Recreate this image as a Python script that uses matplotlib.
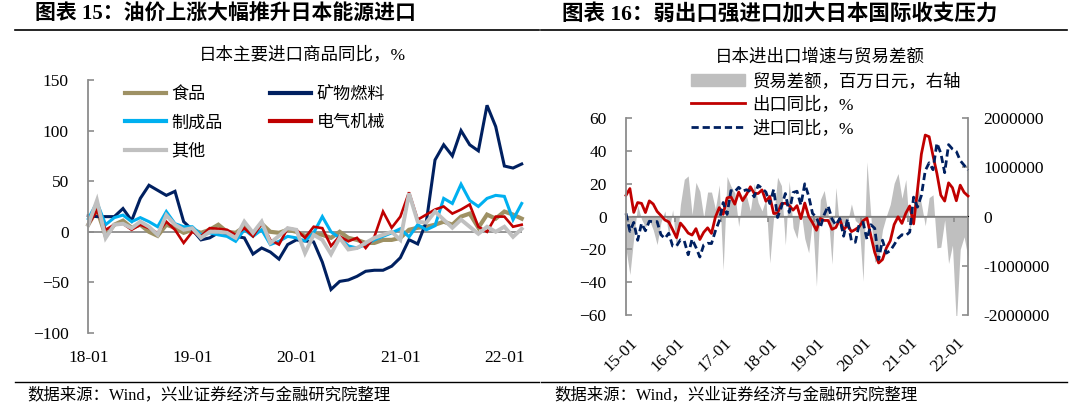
import matplotlib
matplotlib.use('Agg')
import matplotlib.pyplot as plt
from matplotlib.patches import Patch
from matplotlib.lines import Line2D
from matplotlib.font_manager import FontProperties

# ---------------- data: left chart (2018-01 .. 2022-03) ----------------
left_ticks = ['18-01', '19-01', '20-01', '21-01', '22-01']
food = [7, 22, -4, 7, 11, 4, 7, 0, -4, 7, 4, -1, 2, -1, 2, 7, 0, -1, 5, -3, 8, 0, -1, 2, 0,
        -4, -2, -3, -6, 0, -6, -8, -11, -11, -8, -8, -6, 2, 4, 5, 7, 10, 7, 15, 18, 4, 17, 13, 20, 17, 13]
fuel = [16, 15, 15, 15, 23, 11, 33, 46, 41, 36, 40, 10, 2, -8, -6, -1, -3, -4.5, -6, -22, -16, -20, -27, -12.6, -8,
        -9, -10, -30, -57, -49, -47.6, -44, -39, -38, -38, -34, -25.6, -7.8, -12, 10, 71, 86, 75, 100, 86, 80, 125, 104, 65, 63, 67]
manuf = [13, 29, 7, 14, 16.5, 10, 14, 10, 5, 20, 8, 5, 5, -3, -1, -3, -4.5, -9.4, 2, -4.5, 2, -12.6, -9.4, -4.5, -6,
         -9, -1, 15, 0, -6, -14, -16, -12.6, -8, -4.5, -1, 3, -5, 7, 2, 6, 33, 28, 47, 31, 25, 33, 36, 35, 12, 28]
elec = [7, 21, 2, 7, 8, 2, 7, 3.6, -1.3, 10, 2, -11, 0, -4.5, 3.6, 3, 2, -3, 3.6, -4.5, 8.4, -8, -12.6, 3.6, 2,
        -6, 5, 3.6, -14, -4.5, -9.4, -6, -16, -5, 20, 4, 15, 39, 12, 17, 22, 25, 18, 22, 27, 5, 0, 15, 15, 5, 7]
other = [7, 31, -6, 7, 8, 3.6, 10, 5, -3, 16.5, 7, 2, 3.6, -6, 0, 0, -1, -6, 10, -1, 10, -11, -4, 3.6, 2,
         -21, -3, -8, -22, -6, -17.5, -16, -11, -6, -3, 0, -8, 38, 10, 9, 20, 12, 4, 12, 5, -2, 5, 0, 5, -5, 3]
left_names = ['食品', '矿物燃料', '制成品', '电气机械', '其他']

# ---------------- data: right chart (2014-12 .. 2022-04) ----------------
right_ticks = ['15-01', '16-01', '17-01', '18-01', '19-01', '20-01', '21-01', '22-01']
exports = [12.9,
           17.0, 2.5, 8.5, 8.0, 2.4, 9.5, 7.6, 3.1, 0.6, -2.1, -3.3, -8.0,
           -12.9, -4.0, -6.8, -10.1, -11.3, -7.4, -14.0, -9.6, -6.9, -10.3, -0.4, 5.4,
           1.3, 11.3, 12.0, 7.5, 14.9, 9.7, 13.4, 18.1, 14.1, 14.0, 16.2, 9.3,
           12.2, 1.8, 2.1, 7.8, 8.1, 6.7, 3.9, 6.6, -1.3, 8.2, 0.1, -3.8,
           -8.4, -1.2, -2.4, -2.4, -7.8, -6.7, -1.6, -8.2, -5.2, -9.2, -7.9, -6.3,
           -2.6, -1.0, -11.7, -21.9, -28.3, -26.2, -19.2, -14.8, -4.9, -0.2, -4.2, 2.0,
           6.4, -4.5, 16.1, 38.0, 49.6, 48.6, 37.0, 26.2, 13.0, 9.4, 20.5, 17.5,
           9.6, 19.1, 14.7, 12.5]
imports = [1.9,
           -9.0, -3.6, -14.5, -4.2, -8.7, -2.9, -3.2, -3.1, -11.1, -13.4, -10.2, -18.0,
           -18.0, -14.2, -14.9, -23.3, -13.8, -18.8, -24.7, -17.3, -16.3, -16.5, -8.8, -2.6,
           8.5, 1.3, 15.8, 15.1, 17.8, 15.5, 16.3, 15.2, 12.0, 19.0, 17.2, 14.9,
           7.9, 16.5, -0.6, 5.9, 14.0, 2.5, 14.6, 15.4, 7.0, 19.9, 12.5, 1.9,
           -0.6, -6.7, 1.1, 6.4, -1.5, -5.2, -1.2, -12.0, -1.5, -14.8, -15.7, -4.9,
           -3.6, -13.9, -5.0, -7.2, -26.2, -14.4, -22.3, -20.8, -17.2, -13.3, -11.1, -11.6,
           -9.5, 11.8, 5.7, 12.8, 27.9, 32.7, 28.5, 44.7, 38.6, 26.7, 43.8, 41.1,
           39.6, 34.1, 31.2, 28.3]
balance = [-661000,
           -1179000, -425000, 229000, -54000, -217000, -70000, -269000, -570000, -115000, 111000, -380000, 140000,
           -649000, 242000, 755000, 824000, 40000, 693000, 513000, -19000, 497000, 496000, 153000, 641000,
           -1087000, 813000, 614000, 481000, -203000, 440000, 419000, 113000, 667000, 285000, 113000, 359000,
           -944000, 3000, 797000, 626000, -578000, 721000, -231000, -444000, 139000, -449000, -737000, -55000,
           -1415000, 339000, 528000, 60000, -967000, 589000, -249000, -136000, -123000, 256000, -82000, -152000,
           -1313000, 1109000, 2000, -930000, -833000, -269000, 11000, 248000, 675000, 873000, 367000, 751000,
           -323000, 217000, 663000, 255000, -187000, 383000, 441000, -637000, -623000, -67000, -954000, -582000,
           -2191000, -668000, -412000, -839000]
right_names = ['贸易差额，百万日元，右轴', '出口同比，%', '进口同比，%']

# ---------------- styling ----------------
W, H = 1080, 408
CJK = ['Liberation Serif', 'Noto Sans CJK SC']
fp = lambda s, w='normal': FontProperties(family=CJK, size=s, weight=w)
GRAY_AX = '#8C8C8C'

fig = plt.figure(figsize=(W / 100, H / 100), dpi=100)


def box(l, t, r, b):
    return [l / W, 1 - b / H, (r - l) / W, (b - t) / H]


# titles, rules and sources
fig.text(35 / W, 1 - 15 / H, '图表 15：油价上涨大幅推升日本能源进口', fontproperties=fp(15, 'bold'),
         ha='left', va='center')
fig.text(562 / W, 1 - 15 / H, '图表 16：弱出口强进口加大日本国际收支压力', fontproperties=fp(15.5, 'bold'),
         ha='left', va='center')
for x0, x1 in [(15, 539), (541, 1067)]:
    fig.add_artist(Line2D([x0 / W, x1 / W], [1 - 29.5 / H] * 2, color='black', lw=1.2))
    fig.add_artist(Line2D([x0 / W, x1 / W], [1 - 382 / H] * 2, color='black', lw=1.0))
fig.text(27 / W, 1 - 395 / H, '数据来源：Wind，兴业证券经济与金融研究院整理', fontproperties=fp(11.8),
         ha='left', va='center')
fig.text(554 / W, 1 - 395 / H, '数据来源：Wind，兴业证券经济与金融研究院整理', fontproperties=fp(11.8),
         ha='left', va='center')

# ---------------- left chart ----------------
ax = fig.add_axes(box(88.3, 80, 521.7, 333))
xs = list(range(len(fuel)))
colors = ['#9E9164', '#002060', '#00B0F0', '#C00000', '#C0C0C0']
widths = [3.0, 2.2, 2.2, 1.9, 2.8]
series = [food, fuel, manuf, elec, other]
lines = []
for s, c, w, n in zip(series, colors, widths, left_names):
    ln, = ax.plot(xs, s, color=c, lw=w, label=n, clip_on=False, solid_joinstyle='miter')
    lines.append(ln)
ax.axhline(0, color=GRAY_AX, lw=1.3, zorder=0)
ax.set_xlim(0, 50)
ax.set_ylim(-100, 150)
ax.set_yticks([-100, -50, 0, 50, 100, 150])
ax.set_xticks([0, 12, 24, 36, 48])
ax.set_xticklabels(left_ticks)
for sp in ['top', 'right', 'bottom']:
    ax.spines[sp].set_visible(False)
ax.spines['left'].set_color(GRAY_AX)
ax.spines['left'].set_linewidth(1.3)
ax.tick_params(axis='y', direction='in', length=4, color=GRAY_AX, width=1.2, pad=14)
ax.tick_params(axis='x', length=0, pad=12)
for lab in ax.get_xticklabels() + ax.get_yticklabels():
    lab.set_fontproperties(fp(12.5))
ax.patch.set_visible(False)
fig.text(302 / W, 1 - 55 / H, '日本主要进口商品同比，%', fontproperties=fp(12.6), ha='center', va='center')
order = [0, 2, 4, 1, 3]
leg = ax.legend([lines[i] for i in order], [left_names[i] for i in order], ncol=2, loc='upper left',
                bbox_to_anchor=(125 / W, 1 - 87 / H), bbox_transform=fig.transFigure, frameon=False,
                borderpad=0, borderaxespad=0, handlelength=2.4, handletextpad=0.3, columnspacing=2.8,
                labelspacing=0.72, prop=fp(12.3))
for h in leg.legend_handles:
    h.set_linewidth(3.0)

# ---------------- right chart ----------------
axr = fig.add_axes(box(626, 118, 968, 315))
ax2 = axr.twinx()
rx = list(range(len(exports)))
ax2.fill_between(rx, 0, balance, color='#BFBFBF', lw=0)
ax2.set_ylim(-2000000, 2000000)
ax2.set_yticks([-2000000, -1000000, 0, 1000000, 2000000])
ax2.set_yticklabels(['-2000000', '-1000000', '0', '1000000', '2000000'])
l_exp, = axr.plot(rx, exports, color='#C00000', lw=2.0, clip_on=False)
l_imp, = axr.plot(rx, imports, color='#002060', lw=2.0, ls=(0, (2.6, 1.4)), clip_on=False)
axr.axhline(0, color=GRAY_AX, lw=1.3, zorder=1)
axr.set_zorder(ax2.get_zorder() + 1)
axr.patch.set_visible(False)
axr.set_xlim(0, 88)
axr.set_ylim(-60, 60)
axr.set_yticks([-60, -40, -20, 0, 20, 40, 60])
axr.set_xticks([1 + 12 * k for k in range(8)])
axr.set_xticklabels(right_ticks, rotation=45, ha='right', va='top', rotation_mode='anchor')
axr.tick_params(axis='x', length=0, pad=14)
for a in (axr, ax2):
    for sp in ['top', 'bottom']:
        a.spines[sp].set_visible(False)
axr.spines['right'].set_visible(False)
ax2.spines['left'].set_visible(False)
axr.spines['left'].set_color(GRAY_AX)
axr.spines['left'].set_linewidth(1.3)
ax2.spines['right'].set_color(GRAY_AX)
ax2.spines['right'].set_linewidth(1.3)
axr.tick_params(axis='y', direction='in', length=4, color=GRAY_AX, width=1.2, pad=14)
ax2.tick_params(axis='y', direction='in', length=4, color=GRAY_AX, width=1.2, pad=11)
sec = axr.secondary_xaxis(0.5)
sec.set_xticks([0.5 + 12 * k for k in range(8)])
sec.set_xticklabels([])
sec.tick_params(length=4, direction='in', color=GRAY_AX, width=1.2)
sec.spines['bottom'].set_visible(False)
for lab in axr.get_xticklabels() + axr.get_yticklabels() + ax2.get_yticklabels():
    lab.set_fontproperties(fp(12.5))
fig.text(820 / W, 1 - 57 / H, '日本进出口增速与贸易差额', fontproperties=fp(12.6), ha='center', va='center')
rleg = axr.legend([Patch(color='#BFBFBF'), l_exp, l_imp], right_names, loc='upper left',
                  bbox_to_anchor=(691 / W, 1 - 73 / H), bbox_transform=fig.transFigure, frameon=False,
                  borderpad=0, borderaxespad=0, handlelength=3.1, handletextpad=0.45,
                  labelspacing=0.38, prop=fp(12.5))

fig.savefig('out.png', dpi=100)
